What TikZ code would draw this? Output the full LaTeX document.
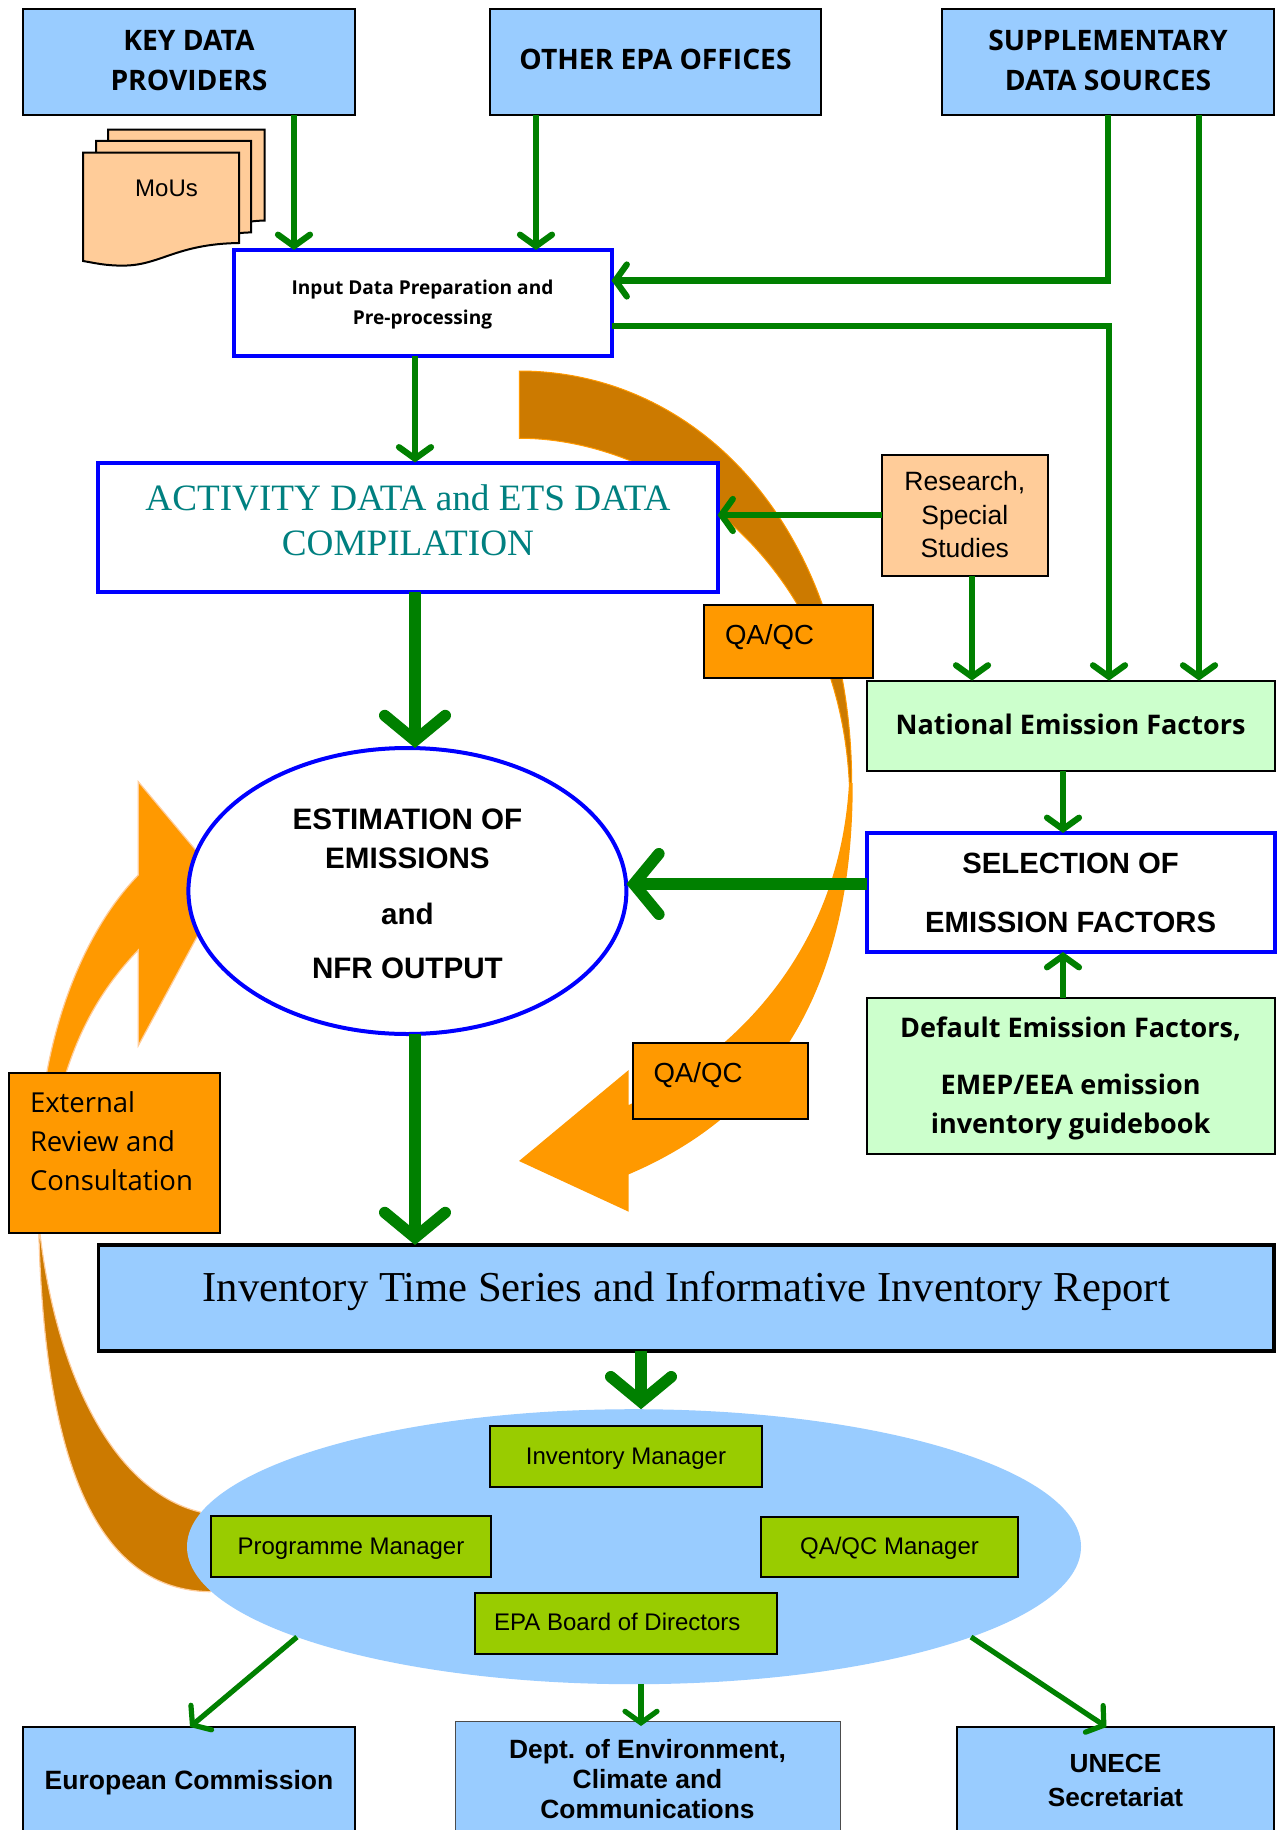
\documentclass[tikz,border=0pt]{standalone}
\usepackage{fontspec}
\usetikzlibrary{arrows.meta,shapes.geometric}
\setmainfont{Liberation Sans}
\newfontfamily\apt{Open Sans}
\newfontfamily\tmr{Liberation Serif}
\newcommand{\fsz}[2]{\fontsize{#1}{#2}\selectfont}
\newcommand{\dn}[1]{\rule[-#1pt]{0pt}{1pt}}
\newcommand{\up}[1]{\rule{0pt}{#1pt}}
\definecolor{skyb}{HTML}{99CCFF}
\definecolor{peach}{HTML}{FFCC99}
\definecolor{orng}{HTML}{FF9900}
\definecolor{dorng}{HTML}{CC7A00}
\definecolor{grn}{HTML}{008000}
\definecolor{lime}{HTML}{99CC00}
\definecolor{mint}{HTML}{CCFFCC}
\definecolor{tealc}{HTML}{008080}
\definecolor{pureblue}{HTML}{0000FF}
\newcommand{\boxn}[7][]{\node[#1,minimum width={(#5-#3)*1pt},minimum height={(#6-#4)*1pt}] (#2) at ({(#3+#5)/2},{(#4+#6)/2}) {#7};}
\tikzset{
  base/.style={rectangle,inner sep=0pt,outer sep=0pt,align=center},
  bluebox/.style={base,draw=black,line width=2pt,fill=skyb},
  whitebox/.style={base,draw=pureblue,line width=4pt,fill=white},
  mintbox/.style={base,draw=black,line width=2pt,fill=mint},
  limebox/.style={base,draw=black,line width=2pt,fill=lime,font=\fsz{24}{28}},
  orngbox/.style={base,draw=black,line width=2pt,fill=orng},
  peachbox/.style={base,draw=black,line width=2pt,fill=peach},
  apb/.style={font=\apt\bfseries\fsz{28.2}{39.5}},
  thinarrow/.style={draw=grn,line width=6.2pt,-{Straight Barb[length=11.5pt,width=32pt,line cap=round,line join=miter]}},
  slimarrow/.style={draw=grn,line width=5.2pt,-{Straight Barb[length=11.5pt,width=32pt,line cap=round,line join=miter]}},
  thickarrow/.style={draw=grn,line width=11.5pt,-{Straight Barb[length=25pt,width=60.5pt,line cap=round,line join=miter]}},
  sheet/.style={draw=black,line width=2pt,fill=peach},
}
\begin{document}
\begin{tikzpicture}[x=1pt,y=-1pt]
\useasboundingbox (0,0) rectangle (1280,1830);
\clip (0,0) rectangle (1280,1830);
\fill[white] (0,0) rectangle (1280,1830);

% curved orange arrows
\fill[dorng,draw=orng,line width=1pt] (519.3,371) .. controls (700,371) and (851,530) .. (851.7,783)
  -- (849.3,783) .. controls (838,556) and (660,438) .. (519.3,438.3) -- cycle;
\fill[orng] (852.7,783) .. controls (853,980) and (780,1110) .. (628.7,1174.3)
  -- (628.7,1211.7) -- (519,1161) -- (628.7,1070) -- (628.7,1105)
  .. controls (735,1055) and (840,950) .. (849,783) -- cycle;
\fill[dorng,draw=peach,line width=1.2pt] (38,1215) -- (38.8,1232) .. controls (45,1470) and (100,1590) .. (210,1591.7)
  -- (260,1560) -- (200,1512) .. controls (110,1490) and (52,1365) .. (38,1215) -- cycle;
\fill[orng,draw=peach,line width=1.2pt] (38,1200) -- (46.7,1073) .. controls (60,1000) and (90,925) .. (138.3,875)
  -- (138.3,781.7) -- (225,885) -- (138.3,1045.7) -- (138.3,950)
  .. controls (100,990) and (80,1030) .. (66,1073) -- cycle;

% top boxes
\boxn[bluebox,apb]{key}{23}{9}{355}{115}{KEY DATA\\PROVIDERS\dn{3.5}}
\boxn[bluebox,apb]{other}{490}{9}{821}{115}{OTHER EPA OFFICES\dn{4.6}}
\boxn[bluebox,apb]{supp}{942}{9}{1274}{115}{SUPPLEMENTARY\\DATA SOURCES\dn{3.5}}

% MoUs document stack
\draw[sheet] (108,129.6) -- (264.5,129.6) -- (264.5,220.6) .. controls (230,220.6) and (200,240) .. (150,240) -- (108,240) -- cycle;
\draw[sheet] (96,141) -- (251,141) -- (251,232.4) .. controls (220,232.4) and (190,250) .. (140,250) -- (96,250) -- cycle;
\draw[sheet] (83,152.6) -- (239,152.6) -- (239,243) .. controls (175,244) and (160,266) .. (122,265.6) .. controls (105,265.6) and (95,263) .. (83,261) -- cycle;
\node[font=\fsz{24}{28},inner sep=0pt] (mous) at (166.5,188.5) {MoUs};

\boxn[whitebox,font=\apt\bfseries\fsz{19.1}{30}]{input}{233.5}{250}{611.5}{356}{\up{18}Input Data Preparation and\\Pre-processing}
\boxn[whitebox,font=\tmr\fsz{37.2}{45},text=tealc]{act}{98.4}{462.5}{717.5}{591.7}{\raisebox{-3pt}[0pt][0pt]{\begin{tabular}{@{}c@{}}ACTIVITY DATA and ETS DATA\\COMPILATION\end{tabular}}}

\boxn[peachbox,font=\fsz{26.5}{33.5}]{research}{881.6}{454.5}{1048}{575.5}{Research,\\Special\\Studies}
\boxn[orngbox,font=\fsz{27.6}{32}]{qa1}{704}{605}{872.6}{678}{\raisebox{-2.5pt}[0pt][0pt]{\makebox[126.6pt][l]{QA/QC}}}
\boxn[orngbox,font=\fsz{27.6}{32}]{qa2}{632.5}{1043}{807.5}{1119}{\raisebox{-1.5pt}[0pt][0pt]{\makebox[133pt][l]{QA/QC}}}

\boxn[mintbox,font=\apt\bfseries\fsz{27}{34}]{nef}{866.5}{680.6}{1274.7}{771}{National Emission Factors\dn{2.3}}
\boxn[whitebox,font=\bfseries\fsz{29.3}{59}]{sel}{866.5}{833}{1274.7}{952}{SELECTION OF\\EMISSION FACTORS}
\boxn[mintbox,font=\apt\bfseries\fsz{27}{39}]{def}{866.5}{998}{1274.7}{1154}{\up{25}Default Emission Factors,\\[18pt]EMEP/EEA emission\\inventory guidebook}

\node[ellipse,draw=pureblue,line width=4pt,fill=white,minimum width=438pt,minimum height=286pt,inner sep=0pt,outer sep=0pt,align=center,font=\bfseries\fsz{29.6}{39}] (est) at (407.4,891) {\up{26.6}ESTIMATION OF\\EMISSIONS\\[17pt]and\\[15pt]NFR OUTPUT};

\boxn[orngbox,font=\apt\fsz{27.5}{39}]{ext}{9}{1073}{220}{1232.6}{\raisebox{3pt}[0pt][0pt]{\makebox[169pt][l]{\begin{tabular}{@{}l@{}}External\\Review and\\Consultation\end{tabular}}}}

\boxn[base,draw=black,line width=3.5pt,fill=skyb,font=\tmr\fsz{42.65}{50}]{inv}{98.4}{1245}{1274}{1351}{\raisebox{-3pt}[0pt][0pt]{Inventory Time Series and Informative Inventory Report}}

% management ellipse
\node[ellipse,fill=skyb,minimum width=894pt,minimum height=275pt,inner sep=0pt,outer sep=0pt] (team) at (634,1546.7) {};
\boxn[limebox]{im}{490}{1426}{762}{1486.7}{\up{22}Inventory Manager}
\boxn[limebox]{pm}{210.6}{1515.7}{491.4}{1576.7}{\up{22}Programme Manager}
\boxn[limebox]{qm}{761}{1516.7}{1018}{1577}{\up{20}QA/QC Manager}
\boxn[limebox]{epa}{474.7}{1593}{777}{1654}{EPA Board of Directors\dn{2.5}\hspace{17pt}}

% recipients
\boxn[bluebox,font=\bfseries\fsz{26.5}{32}]{ec}{23}{1727}{355}{1833}{\up{25}European Commission}
\boxn[base,draw=black!70,line width=1pt,fill=skyb,font=\bfseries\fsz{26.4}{30}]{dept}{455}{1721}{840}{1835}{\up{22}Dept. of Environment,\\Climate and\\Communications}
\boxn[bluebox,font=\bfseries\fsz{26.2}{34}]{unece}{957}{1727}{1274}{1833}{UNECE\\Secretariat}

% connector guides
\coordinate (g1) at (294,0);
\coordinate (g2) at (536,0);
\coordinate (g3) at (1108,280.5);
\coordinate (g4) at (1109,325.7);
\coordinate (g5) at (1199,0);
\coordinate (g6) at (415,0);
\coordinate (g7) at (800,515);
\coordinate (g8) at (972,0);
\coordinate (g9) at (1063,0);
\coordinate (g10) at (700,884);
\coordinate (g11) at (641,0);
\coordinate (g12) at (190,0);
\coordinate (g13) at (1106.5,0);
\coordinate (g14) at (641,1726);

% connectors
\draw[thinarrow] (g1 |- key.south) -- (g1 |- input.north);
\draw[thinarrow] (g2 |- other.south) -- (g2 |- input.north);
\draw[thinarrow] (g3 |- supp.south) -- (g3) -- (g3 -| input.east);
\draw[thinarrow] (g4 -| input.east) -- (g4) -- (g4 |- nef.north);
\draw[thinarrow] (g5 |- supp.south) -- (g5 |- nef.north);
\draw[thinarrow] (g6 |- input.south) -- (g6 |- act.north);
\draw[thinarrow] (g7 -| research.west) -- (g7 -| act.east);
\draw[thinarrow] (g8 |- research.south) -- (g8 |- nef.north);
\draw[thinarrow] (g9 |- nef.south) -- (g9 |- sel.north);
\draw[thinarrow] (g9 |- def.north) -- (g9 |- sel.south);
\draw[thickarrow] (g6 |- act.south) -- (g6 |- est.north);
\draw[thickarrow] (g10 -| sel.west) -- (g10 -| est.east);
\draw[thickarrow] (g6 |- est.south) -- (g6 |- inv.north);
\draw[thickarrow] (g11 |- inv.south) -- (g11 |- team.north);
\draw[slimarrow] (team.195.6) -- (g12 |- ec.north);
\draw[slimarrow] (g11 |- team.south) -- (g14);
\draw[slimarrow] (team.345.1) -- (g13 |- unece.north);
\end{tikzpicture}
\end{document}
